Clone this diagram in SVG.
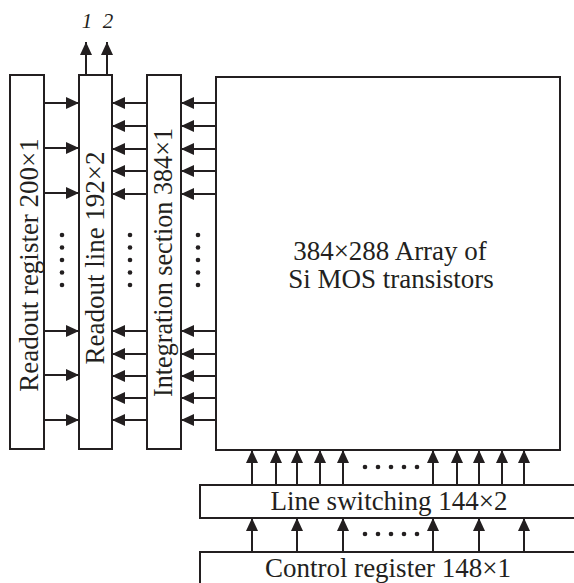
<svg xmlns="http://www.w3.org/2000/svg" width="574" height="583" viewBox="0 0 574 583">
<style>
.box{fill:#fff;stroke:#231f20;stroke-width:2}
.t{font-family:"Liberation Serif","Times New Roman",serif;font-size:27px;fill:#231f20;text-anchor:middle}
.n{font-family:"Liberation Serif","Times New Roman",serif;font-size:21px;font-style:italic;fill:#231f20;text-anchor:middle}
.c line{stroke:#231f20;stroke-width:2;marker-end:url(#ah)}
.d{fill:#231f20}
</style>
<defs>
<marker id="ah" markerUnits="userSpaceOnUse" markerWidth="13" markerHeight="12" refX="13" refY="6" orient="auto">
<path d="M0,0 L13,6 L0,12 z" fill="#231f20"/>
</marker>
</defs>
<rect width="574" height="583" fill="#fff"/>
<g id="readout-register"><rect class="box" x="10" y="75" width="34" height="374"/>
<text class="t" transform="translate(38,265) rotate(-90)">Readout register 200×1</text></g>
<g id="readout-line"><rect class="box" x="79" y="75" width="33" height="374"/>
<text class="t" transform="translate(104,258) rotate(-90)">Readout line 192×2</text></g>
<g id="integration-section"><rect class="box" x="147" y="75" width="34" height="374"/>
<text class="t" transform="translate(172,262.5) rotate(-90)" textLength="269" lengthAdjust="spacingAndGlyphs">Integration section 384×1</text></g>
<g id="array"><rect class="box" x="216" y="77" width="344" height="373"/>
<text class="t" x="390" y="260">384×288 Array of</text>
<text class="t" x="391" y="288">Si MOS transistors</text></g>
<g id="line-switching"><rect class="box" x="200" y="485" width="380" height="33"/>
<text class="t" x="389" y="510">Line switching 144×2</text></g>
<g id="control-register"><rect class="box" x="200" y="552" width="380" height="40"/>
<text class="t" x="388" y="577">Control register 148×1</text></g>
<g id="outputs"><text class="n" x="87" y="28">1</text><text class="n" x="108" y="28">2</text></g>
<g id="connectors" class="c">
<line x1="86" y1="75" x2="86" y2="42"/><line x1="107" y1="75" x2="107" y2="42"/>
<line x1="44" y1="103" x2="79" y2="103"/><line x1="44" y1="148" x2="79" y2="148"/><line x1="44" y1="193" x2="79" y2="193"/>
<line x1="44" y1="331" x2="79" y2="331"/><line x1="44" y1="375" x2="79" y2="375"/><line x1="44" y1="420" x2="79" y2="420"/>
<line x1="147" y1="103" x2="112" y2="103"/><line x1="147" y1="126" x2="112" y2="126"/><line x1="147" y1="149" x2="112" y2="149"/><line x1="147" y1="171" x2="112" y2="171"/><line x1="147" y1="194" x2="112" y2="194"/>
<line x1="147" y1="331" x2="112" y2="331"/><line x1="147" y1="354" x2="112" y2="354"/><line x1="147" y1="376" x2="112" y2="376"/><line x1="147" y1="398" x2="112" y2="398"/><line x1="147" y1="420" x2="112" y2="420"/>
<line x1="216" y1="103" x2="181" y2="103"/><line x1="216" y1="126" x2="181" y2="126"/><line x1="216" y1="149" x2="181" y2="149"/><line x1="216" y1="171" x2="181" y2="171"/><line x1="216" y1="194" x2="181" y2="194"/>
<line x1="216" y1="331" x2="181" y2="331"/><line x1="216" y1="354" x2="181" y2="354"/><line x1="216" y1="376" x2="181" y2="376"/><line x1="216" y1="398" x2="181" y2="398"/><line x1="216" y1="420" x2="181" y2="420"/>
<line x1="252" y1="485" x2="252" y2="450"/><line x1="276" y1="485" x2="276" y2="450"/><line x1="297" y1="485" x2="297" y2="450"/><line x1="320" y1="485" x2="320" y2="450"/><line x1="343" y1="485" x2="343" y2="450"/>
<line x1="433" y1="485" x2="433" y2="450"/><line x1="457" y1="485" x2="457" y2="450"/><line x1="479" y1="485" x2="479" y2="450"/><line x1="502" y1="485" x2="502" y2="450"/><line x1="524" y1="485" x2="524" y2="450"/>
<line x1="252" y1="552" x2="252" y2="518"/><line x1="297" y1="552" x2="297" y2="518"/><line x1="343" y1="552" x2="343" y2="518"/>
<line x1="433" y1="552" x2="433" y2="518"/><line x1="479" y1="552" x2="479" y2="518"/><line x1="524" y1="552" x2="524" y2="518"/>
</g>
<g id="ellipses" class="d">
<circle cx="62" cy="235" r="2.3"/><circle cx="62" cy="247.5" r="2.3"/><circle cx="62" cy="260" r="2.3"/><circle cx="62" cy="272.5" r="2.3"/><circle cx="62" cy="285" r="2.3"/>
<circle cx="130" cy="235" r="2.3"/><circle cx="130" cy="247.5" r="2.3"/><circle cx="130" cy="260" r="2.3"/><circle cx="130" cy="272.5" r="2.3"/><circle cx="130" cy="285" r="2.3"/>
<circle cx="198" cy="235" r="2.3"/><circle cx="198" cy="247.5" r="2.3"/><circle cx="198" cy="260" r="2.3"/><circle cx="198" cy="272.5" r="2.3"/><circle cx="198" cy="285" r="2.3"/>
<circle cx="365" cy="467" r="2.3"/><circle cx="378" cy="467" r="2.3"/><circle cx="391" cy="467" r="2.3"/><circle cx="404" cy="467" r="2.3"/><circle cx="417" cy="467" r="2.3"/>
<circle cx="365" cy="534" r="2.3"/><circle cx="378" cy="534" r="2.3"/><circle cx="391" cy="534" r="2.3"/><circle cx="404" cy="534" r="2.3"/><circle cx="417" cy="534" r="2.3"/>
</g>
</svg>
